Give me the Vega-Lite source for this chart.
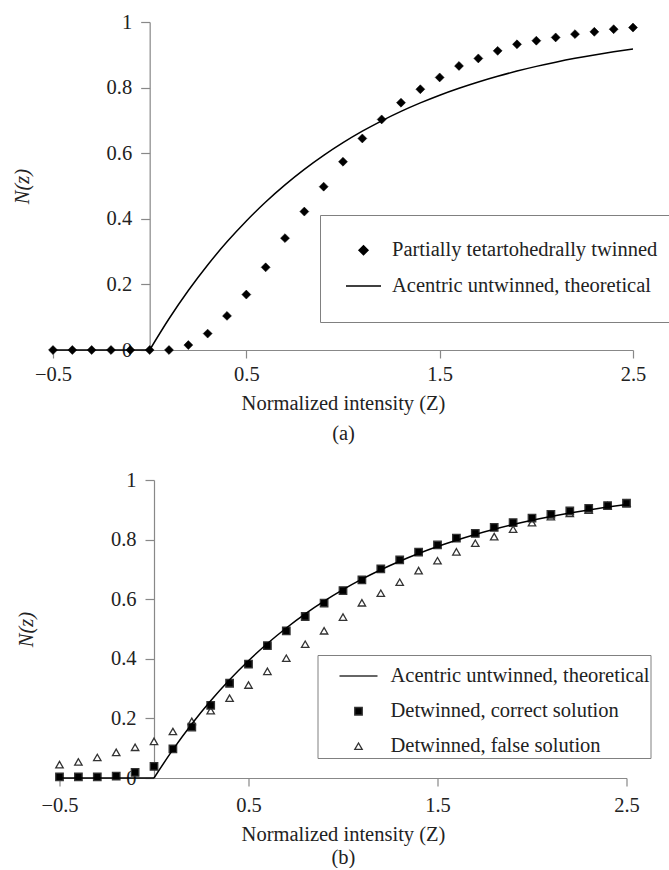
{
  "$schema": "https://vega.github.io/schema/vega-lite/v6.json",
  "background": "white",
  "padding": {"left": 12, "top": 12, "right": 0, "bottom": 0},
  "datasets": {
    "theory": [
      {"z": -0.5, "n": 0, "seg": 1}, {"z": 0.0, "n": 0, "seg": 1},
      {"z": 0.0, "n": 0, "seg": 2}, {"z": 0.1, "n": 0.0952, "seg": 2}, {"z": 0.2, "n": 0.1813, "seg": 2},
      {"z": 0.3, "n": 0.2592, "seg": 2}, {"z": 0.4, "n": 0.3297, "seg": 2}, {"z": 0.5, "n": 0.3935, "seg": 2}, {"z": 0.6, "n": 0.4512, "seg": 2},
      {"z": 0.7, "n": 0.5034, "seg": 2}, {"z": 0.8, "n": 0.5507, "seg": 2}, {"z": 0.9, "n": 0.5934, "seg": 2}, {"z": 1.0, "n": 0.6321, "seg": 2},
      {"z": 1.1, "n": 0.6671, "seg": 2}, {"z": 1.2, "n": 0.6988, "seg": 2}, {"z": 1.3, "n": 0.7275, "seg": 2}, {"z": 1.4, "n": 0.7534, "seg": 2},
      {"z": 1.5, "n": 0.7769, "seg": 2}, {"z": 1.6, "n": 0.7981, "seg": 2}, {"z": 1.7, "n": 0.8173, "seg": 2}, {"z": 1.8, "n": 0.8347, "seg": 2},
      {"z": 1.9, "n": 0.8504, "seg": 2}, {"z": 2.0, "n": 0.8647, "seg": 2}, {"z": 2.1, "n": 0.8775, "seg": 2}, {"z": 2.2, "n": 0.8892, "seg": 2},
      {"z": 2.3, "n": 0.8997, "seg": 2}, {"z": 2.4, "n": 0.9093, "seg": 2}, {"z": 2.5, "n": 0.9179, "seg": 2}
    ],
    "a_pts": [
      {"z": -0.5, "n": 0, "s": "Partially tetartohedrally twinned"},
      {"z": -0.4, "n": 0, "s": "Partially tetartohedrally twinned"},
      {"z": -0.3, "n": 0, "s": "Partially tetartohedrally twinned"},
      {"z": -0.2, "n": 0, "s": "Partially tetartohedrally twinned"},
      {"z": -0.1, "n": 0, "s": "Partially tetartohedrally twinned"},
      {"z": 0.0, "n": 0, "s": "Partially tetartohedrally twinned"},
      {"z": 0.1, "n": 0, "s": "Partially tetartohedrally twinned"},
      {"z": 0.2, "n": 0.015, "s": "Partially tetartohedrally twinned"},
      {"z": 0.3, "n": 0.05, "s": "Partially tetartohedrally twinned"},
      {"z": 0.4, "n": 0.104, "s": "Partially tetartohedrally twinned"},
      {"z": 0.5, "n": 0.169, "s": "Partially tetartohedrally twinned"},
      {"z": 0.6, "n": 0.252, "s": "Partially tetartohedrally twinned"},
      {"z": 0.7, "n": 0.341, "s": "Partially tetartohedrally twinned"},
      {"z": 0.8, "n": 0.422, "s": "Partially tetartohedrally twinned"},
      {"z": 0.9, "n": 0.498, "s": "Partially tetartohedrally twinned"},
      {"z": 1.0, "n": 0.574, "s": "Partially tetartohedrally twinned"},
      {"z": 1.1, "n": 0.645, "s": "Partially tetartohedrally twinned"},
      {"z": 1.2, "n": 0.703, "s": "Partially tetartohedrally twinned"},
      {"z": 1.3, "n": 0.754, "s": "Partially tetartohedrally twinned"},
      {"z": 1.4, "n": 0.795, "s": "Partially tetartohedrally twinned"},
      {"z": 1.5, "n": 0.831, "s": "Partially tetartohedrally twinned"},
      {"z": 1.6, "n": 0.866, "s": "Partially tetartohedrally twinned"},
      {"z": 1.7, "n": 0.889, "s": "Partially tetartohedrally twinned"},
      {"z": 1.8, "n": 0.912, "s": "Partially tetartohedrally twinned"},
      {"z": 1.9, "n": 0.932, "s": "Partially tetartohedrally twinned"},
      {"z": 2.0, "n": 0.943, "s": "Partially tetartohedrally twinned"},
      {"z": 2.1, "n": 0.953, "s": "Partially tetartohedrally twinned"},
      {"z": 2.2, "n": 0.963, "s": "Partially tetartohedrally twinned"},
      {"z": 2.3, "n": 0.970, "s": "Partially tetartohedrally twinned"},
      {"z": 2.4, "n": 0.978, "s": "Partially tetartohedrally twinned"},
      {"z": 2.5, "n": 0.983, "s": "Partially tetartohedrally twinned"}
    ],
    "b_pts": [
      {"z": -0.5, "n": 0.045, "s": "Detwinned, false solution"},
      {"z": -0.4, "n": 0.054, "s": "Detwinned, false solution"},
      {"z": -0.3, "n": 0.069, "s": "Detwinned, false solution"},
      {"z": -0.2, "n": 0.086, "s": "Detwinned, false solution"},
      {"z": -0.1, "n": 0.103, "s": "Detwinned, false solution"},
      {"z": 0.0, "n": 0.123, "s": "Detwinned, false solution"},
      {"z": 0.1, "n": 0.156, "s": "Detwinned, false solution"},
      {"z": 0.2, "n": 0.190, "s": "Detwinned, false solution"},
      {"z": 0.3, "n": 0.226, "s": "Detwinned, false solution"},
      {"z": 0.4, "n": 0.268, "s": "Detwinned, false solution"},
      {"z": 0.5, "n": 0.312, "s": "Detwinned, false solution"},
      {"z": 0.6, "n": 0.358, "s": "Detwinned, false solution"},
      {"z": 0.7, "n": 0.402, "s": "Detwinned, false solution"},
      {"z": 0.8, "n": 0.449, "s": "Detwinned, false solution"},
      {"z": 0.9, "n": 0.494, "s": "Detwinned, false solution"},
      {"z": 1.0, "n": 0.540, "s": "Detwinned, false solution"},
      {"z": 1.1, "n": 0.588, "s": "Detwinned, false solution"},
      {"z": 1.2, "n": 0.620, "s": "Detwinned, false solution"},
      {"z": 1.3, "n": 0.657, "s": "Detwinned, false solution"},
      {"z": 1.4, "n": 0.696, "s": "Detwinned, false solution"},
      {"z": 1.5, "n": 0.729, "s": "Detwinned, false solution"},
      {"z": 1.6, "n": 0.759, "s": "Detwinned, false solution"},
      {"z": 1.7, "n": 0.788, "s": "Detwinned, false solution"},
      {"z": 1.8, "n": 0.810, "s": "Detwinned, false solution"},
      {"z": 1.9, "n": 0.835, "s": "Detwinned, false solution"},
      {"z": 2.0, "n": 0.857, "s": "Detwinned, false solution"},
      {"z": 2.1, "n": 0.877, "s": "Detwinned, false solution"},
      {"z": 2.2, "n": 0.888, "s": "Detwinned, false solution"},
      {"z": 2.3, "n": 0.899, "s": "Detwinned, false solution"},
      {"z": 2.4, "n": 0.914, "s": "Detwinned, false solution"},
      {"z": 2.5, "n": 0.922, "s": "Detwinned, false solution"},
      {"z": -0.5, "n": 0.004, "s": "Detwinned, correct solution"},
      {"z": -0.4, "n": 0.004, "s": "Detwinned, correct solution"},
      {"z": -0.3, "n": 0.004, "s": "Detwinned, correct solution"},
      {"z": -0.2, "n": 0.006, "s": "Detwinned, correct solution"},
      {"z": -0.1, "n": 0.019, "s": "Detwinned, correct solution"},
      {"z": 0.0, "n": 0.039, "s": "Detwinned, correct solution"},
      {"z": 0.1, "n": 0.098, "s": "Detwinned, correct solution"},
      {"z": 0.2, "n": 0.171, "s": "Detwinned, correct solution"},
      {"z": 0.3, "n": 0.244, "s": "Detwinned, correct solution"},
      {"z": 0.4, "n": 0.318, "s": "Detwinned, correct solution"},
      {"z": 0.5, "n": 0.382, "s": "Detwinned, correct solution"},
      {"z": 0.6, "n": 0.444, "s": "Detwinned, correct solution"},
      {"z": 0.7, "n": 0.494, "s": "Detwinned, correct solution"},
      {"z": 0.8, "n": 0.542, "s": "Detwinned, correct solution"},
      {"z": 0.9, "n": 0.587, "s": "Detwinned, correct solution"},
      {"z": 1.0, "n": 0.629, "s": "Detwinned, correct solution"},
      {"z": 1.1, "n": 0.665, "s": "Detwinned, correct solution"},
      {"z": 1.2, "n": 0.702, "s": "Detwinned, correct solution"},
      {"z": 1.3, "n": 0.732, "s": "Detwinned, correct solution"},
      {"z": 1.4, "n": 0.758, "s": "Detwinned, correct solution"},
      {"z": 1.5, "n": 0.782, "s": "Detwinned, correct solution"},
      {"z": 1.6, "n": 0.805, "s": "Detwinned, correct solution"},
      {"z": 1.7, "n": 0.821, "s": "Detwinned, correct solution"},
      {"z": 1.8, "n": 0.841, "s": "Detwinned, correct solution"},
      {"z": 1.9, "n": 0.857, "s": "Detwinned, correct solution"},
      {"z": 2.0, "n": 0.872, "s": "Detwinned, correct solution"},
      {"z": 2.1, "n": 0.885, "s": "Detwinned, correct solution"},
      {"z": 2.2, "n": 0.896, "s": "Detwinned, correct solution"},
      {"z": 2.3, "n": 0.905, "s": "Detwinned, correct solution"},
      {"z": 2.4, "n": 0.914, "s": "Detwinned, correct solution"},
      {"z": 2.5, "n": 0.922, "s": "Detwinned, correct solution"}
    ]
  },
  "bounds": "flush",
  "spacing": 130,
  "center": true,
  "resolve": {
    "scale": {"shape": "independent", "fill": "independent", "size": "independent", "x": "independent", "y": "independent"},
    "legend": {"shape": "independent", "fill": "independent", "size": "independent"}
  },
  "vconcat": [
    {
      "width": 580,
      "height": 328,
      "layer": [
        {
          "data": {"name": "theory"},
          "mark": {"type": "line", "color": "black", "strokeWidth": 1.5, "interpolate": "monotone"},
          "encoding": {
            "x": {"field": "z", "type": "quantitative", "scale": {"domain": [-0.5, 2.5], "nice": false},
              "axis": {"values": [-0.5, 0.5, 1.5, 2.5], "format": ".1f", "title": ["Normalized intensity (Z)", "(a)"],
                "tickSize": 8, "labelPadding": 6, "titlePadding": 9, "titleLineHeight": 30}},
            "y": {"field": "n", "type": "quantitative", "scale": {"domain": [0, 1], "nice": false},
              "axis": {"values": [0, 0.2, 0.4, 0.6, 0.8, 1], "format": "~g", "title": "N(z)", "titleFontStyle": "italic",
                "offset": -96.67, "tickSize": 9, "labelPadding": 9, "titlePadding": 74}},
            "detail": {"field": "seg", "type": "nominal"}
          }
        },
        {
          "data": {"name": "a_pts"},
          "mark": {"type": "point", "filled": true, "stroke": "black", "strokeWidth": 0.5, "opacity": 1},
          "encoding": {
            "x": {"field": "z", "type": "quantitative"},
            "y": {"field": "n", "type": "quantitative"},
            "shape": {"field": "s", "type": "nominal",
              "scale": {"domain": ["Partially tetartohedrally twinned", "Acentric untwinned, theoretical"], "range": ["diamond", "stroke"]},
              "legend": {"orient": "none", "legendX": 267, "legendY": 193, "title": null, "padding": 25, "rowPadding": 6.5,
                "strokeColor": "#808080", "fillColor": "white", "labelFont": "Liberation Serif, DejaVu Serif, serif", "labelFontSize": 20.5, "labelColor": "#222",
                "labelOffset": 10, "symbolStrokeColor": "black", "symbolStrokeWidth": 1.5, "labelLimit": 400}},
            "fill": {"field": "s", "type": "nominal",
              "scale": {"domain": ["Partially tetartohedrally twinned", "Acentric untwinned, theoretical"], "range": ["black", "black"]}},
            "size": {"field": "s", "type": "nominal",
              "scale": {"type": "ordinal", "domain": ["Partially tetartohedrally twinned", "Acentric untwinned, theoretical"], "range": [80, 1225]}}
          }
        }
      ]
    },
    {
      "width": 567,
      "height": 298,
      "layer": [
        {
          "data": {"name": "b_pts"},
          "mark": {"type": "point", "filled": true, "stroke": "#333", "strokeWidth": 1.3, "opacity": 1},
          "encoding": {
            "x": {"field": "z", "type": "quantitative", "scale": {"domain": [-0.5, 2.5], "nice": false},
              "axis": {"values": [-0.5, 0.5, 1.5, 2.5], "format": ".1f", "title": ["Normalized intensity (Z)", "(b)"],
                "tickSize": 8, "labelPadding": 9, "titlePadding": 9, "titleLineHeight": 23}},
            "y": {"field": "n", "type": "quantitative", "scale": {"domain": [0, 1], "nice": false},
              "axis": {"values": [0, 0.2, 0.4, 0.6, 0.8, 1], "format": "~g", "title": "N(z)", "titleFontStyle": "italic",
                "offset": -94.5, "tickSize": 9, "labelPadding": 9, "titlePadding": 74}},
            "shape": {"field": "s", "type": "nominal",
              "scale": {"domain": ["Acentric untwinned, theoretical", "Detwinned, correct solution", "Detwinned, false solution"], "range": ["stroke", "square", "triangle-up"]},
              "legend": {"orient": "none", "legendX": 258, "legendY": 175, "title": null, "padding": 1, "symbolOffset": 20, "rowPadding": 14,
                "strokeColor": "#808080", "fillColor": "white", "labelFont": "Liberation Serif, DejaVu Serif, serif", "labelFontSize": 20.5, "labelColor": "#222",
                "labelOffset": 12, "symbolStrokeColor": "black", "symbolStrokeWidth": 1.3, "labelLimit": 400}},
            "fill": {"field": "s", "type": "nominal",
              "scale": {"domain": ["Acentric untwinned, theoretical", "Detwinned, correct solution", "Detwinned, false solution"], "range": ["black", "black", "white"]}},
            "size": {"field": "s", "type": "nominal",
              "scale": {"type": "ordinal", "domain": ["Acentric untwinned, theoretical", "Detwinned, correct solution", "Detwinned, false solution"], "range": [1444, 56, 55]}}
          }
        },
        {
          "data": {"name": "theory"},
          "mark": {"type": "line", "color": "black", "strokeWidth": 1.5, "interpolate": "monotone"},
          "encoding": {
            "x": {"field": "z", "type": "quantitative"},
            "y": {"field": "n", "type": "quantitative"},
            "detail": {"field": "seg", "type": "nominal"}
          }
        }
      ]
    }
  ],
  "config": {
    "view": {"stroke": null},
    "font": "Liberation Serif, DejaVu Serif, serif",
    "axis": {
      "labelFont": "Liberation Serif, DejaVu Serif, serif", "titleFont": "Liberation Serif, DejaVu Serif, serif",
      "labelFontSize": 20.5, "titleFontSize": 20.5, "titleFontWeight": "normal",
      "labelColor": "#222", "titleColor": "#222",
      "domainColor": "#888", "tickColor": "#888", "domainWidth": 1.2, "tickWidth": 1.2,
      "grid": false, "labelOverlap": false, "labelFlush": false
    }
  }
}
